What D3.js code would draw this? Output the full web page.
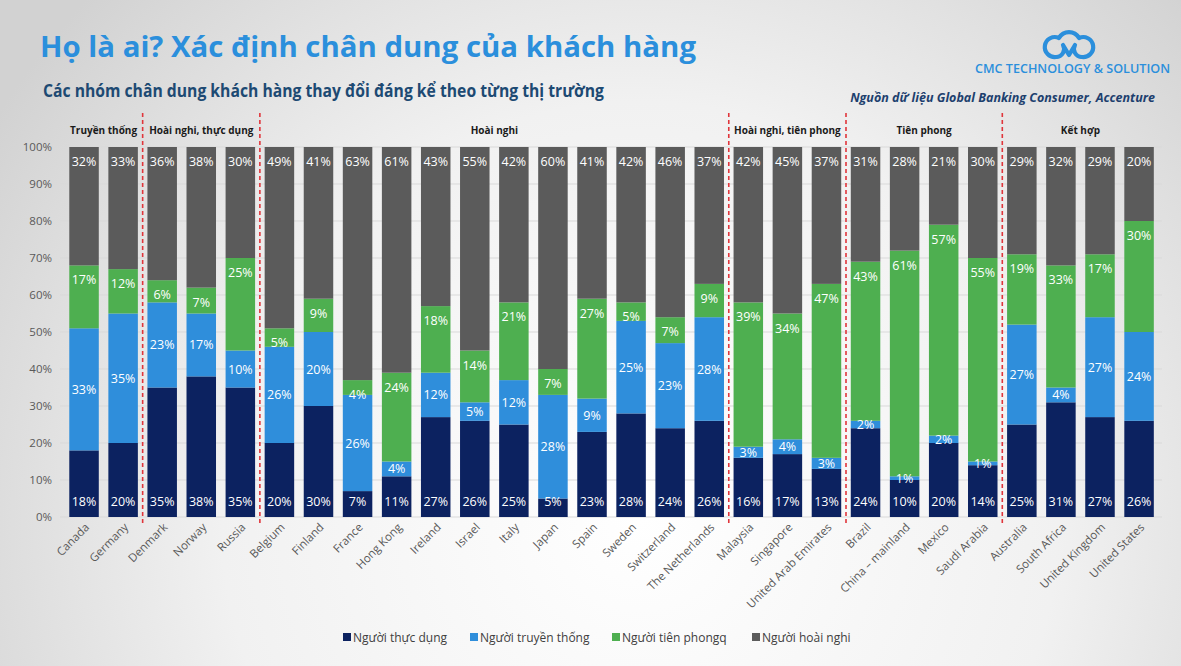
<!DOCTYPE html>
<html><head><meta charset="utf-8">
<script src="https://cdn.jsdelivr.net/npm/d3@7/dist/d3.min.js"></script>
<style>
html,body{margin:0;padding:0;}
body{width:1181px;height:666px;overflow:hidden;}
svg{display:block;font-family:"Open Sans","Noto Sans",sans-serif;}
</style></head>
<body>
<svg id="chart" width="1181" height="666"></svg>
<script>
const categories = ["Canada","Germany","Denmark","Norway","Russia","Belgium","Finland","France","Hong Kong","Ireland","Israel","Italy","Japan","Spain","Sweden","Switzerland","The Netherlands","Malaysia","Singapore","United Arab Emirates","Brazil","China – mainland","Mexico","Saudi Arabia","Australia","South Africa","United Kingdom","United States"];
const thucDung    = [18,20,35,38,35,20,30,7,11,27,26,25,5,23,28,24,26,16,17,13,24,10,20,14,25,31,27,26];
const truyenThong = [33,35,23,17,10,26,20,26,4,12,5,12,28,9,25,23,28,3,4,3,2,1,2,1,27,4,27,24];
const tienPhong   = [17,12,6,7,25,5,9,4,24,18,14,21,7,27,5,7,9,39,34,47,43,61,57,55,19,33,17,30];
const hoaiNghi    = [32,33,36,38,30,49,41,63,61,43,55,42,60,41,42,46,37,42,45,37,31,28,21,30,29,32,29,20];
const seriesNames = ["Người thực dụng","Người truyền thống","Người tiên phongq","Người hoài nghi"];
const groupNames  = ["Truyền thống","Hoài nghi, thực dụng","Hoài nghi","Hoài nghi, tiên phong","Tiên phong","Kết hợp"];
const groupStarts = [0,2,5,17,20,24];
const groupEnds   = [1,4,16,19,23,27];
const yTicks = [0,10,20,30,40,50,60,70,80,90,100];

const colors = ["#0c2260","#2f8edb","#4eaf50","#5b5b5b"];
const svg = d3.select("#chart");

// background
const defs = svg.append("defs");
const rg = defs.append("radialGradient").attr("id","bg").attr("gradientUnits","userSpaceOnUse")
  .attr("cx",640).attr("cy",520).attr("r",760);
rg.append("stop").attr("offset","0").attr("stop-color","#ffffff");
rg.append("stop").attr("offset","0.55").attr("stop-color","#f1f1f1");
rg.append("stop").attr("offset","1").attr("stop-color","#d2d2d2");
svg.append("rect").attr("width",1181).attr("height",666).attr("fill","url(#bg)");

// titles
function fitText(sel, w){ sel.attr("textLength",w).attr("lengthAdjust","spacingAndGlyphs"); }
svg.append("text").attr("x",40).attr("y",57).attr("font-size",29).attr("font-weight",700)
  .attr("fill","#2b8fdc").text("Họ là ai? Xác định chân dung của khách hàng").call(fitText,656);
svg.append("text").attr("x",43).attr("y",97).attr("font-size",17).attr("font-weight",700)
  .attr("fill","#1d4a73").text("Các nhóm chân dung khách hàng thay đổi đáng kể theo từng thị trường").call(fitText,561);
svg.append("text").attr("x",1155).attr("y",102).attr("text-anchor","end").attr("font-size",12.5)
  .attr("font-weight",700).attr("font-style","italic").attr("fill","#1d3f6e")
  .text("Nguồn dữ liệu Global Banking Consumer, Accenture");

// logo
const lg = svg.append("g").attr("fill","none").attr("stroke","#2b8fdc").attr("stroke-width",4.2)
  .attr("stroke-linecap","round").attr("stroke-linejoin","round");
lg.append("path").attr("d","M1056,57 A10,10 0 1 1 1059,38 A11.5,11.5 0 0 1 1079,38 A10,10 0 1 1 1082,57");
lg.append("path").attr("d","M1056,57 A8,8 0 0 0 1063,45 L1069,55 L1075,45 A8,8 0 0 0 1082,57");
svg.append("text").attr("x",975).attr("y",73).attr("font-size",12.5).attr("font-weight",600)
  .attr("fill","#2b8fdc").text("CMC TECHNOLOGY & SOLUTION").call(fitText,195);

// scales
const x = d3.scaleBand().domain(categories).range([64.5,1158.6]).paddingInner(0.245).paddingOuter(0.1225);
const y = d3.scaleLinear().domain([0,100]).range([517,147]);

// grid
svg.append("g").selectAll("line").data(yTicks).join("line")
  .attr("x1",60).attr("x2",1162).attr("y1",d=>y(d)).attr("y2",d=>y(d))
  .attr("stroke","#d9d9d9").attr("stroke-width",1);

// y axis
const yAxis = svg.append("g").attr("transform","translate(55,0)")
  .call(d3.axisLeft(y).tickValues(yTicks).tickFormat(d=>d+"%").tickSize(0).tickPadding(3));
yAxis.select(".domain").remove();
yAxis.selectAll("text").attr("font-size",11.5).attr("fill","#595959").attr("font-family","Open Sans, sans-serif");

// stacked data
const table = categories.map((c,i)=>({cat:c, s0:thucDung[i], s1:truyenThong[i], s2:tienPhong[i], s3:hoaiNghi[i]}));
const stack = d3.stack().keys(["s0","s1","s2","s3"])(table);

const layers = svg.append("g").selectAll("g").data(stack).join("g").attr("fill",(d,i)=>colors[i]);
layers.selectAll("rect").data(d=>d).join("rect")
  .attr("x",d=>x(d.data.cat)).attr("width",x.bandwidth())
  .attr("y",d=>y(d[1])).attr("height",d=>y(d[0])-y(d[1]));

// labels
const lab = svg.append("g").attr("fill","#ffffff").attr("font-size",12.5).attr("text-anchor","middle");
stack.forEach((layer,li)=>{
  lab.selectAll(null).data(layer).join("text")
    .attr("x",d=>x(d.data.cat)+x.bandwidth()/2)
    .attr("y",d=>{
      if(li===0) return y(d[0])-11.5;
      if(li===1) return (y(d[0])+y(d[1]))/2+4.5;
      return y(d[1])+19;
    })
    .text(d=>(d[1]-d[0])+"%");
});

// group separators and headers
const bw = x.bandwidth();
for(let g=0; g<groupNames.length; g++){
  const xs = x(categories[groupStarts[g]]);
  const xe = x(categories[groupEnds[g]])+bw;
  svg.append("text").attr("x",(xs+xe)/2).attr("y",134).attr("text-anchor","middle")
    .attr("font-size",10).attr("font-weight",700).attr("fill","#1a1a1a").text(groupNames[g]);
  if(g<groupNames.length-1){
    const xn = x(categories[groupStarts[g+1]]);
    const xl = (xe+xn)/2;
    svg.append("line").attr("x1",xl).attr("x2",xl).attr("y1",113).attr("y2",524)
      .attr("stroke","#e0353b").attr("stroke-width",1.6).attr("stroke-dasharray","4,3");
  }
}

// x labels
svg.append("g").selectAll("text").data(categories).join("text")
  .attr("transform",d=>`translate(${x(d)+bw/2+6},528) rotate(-45)`)
  .attr("text-anchor","end").attr("font-size",11.5).attr("fill","#595959").text(d=>d);

// legend
const legX = [343,470,612,752];
const leg = svg.append("g");
seriesNames.forEach((n,i)=>{
  leg.append("rect").attr("x",legX[i]).attr("y",633).attr("width",8).attr("height",8).attr("fill",colors[i]);
  leg.append("text").attr("x",legX[i]+10).attr("y",642).attr("font-size",12).attr("fill","#404040").text(n);
});
</script>
</body></html>
